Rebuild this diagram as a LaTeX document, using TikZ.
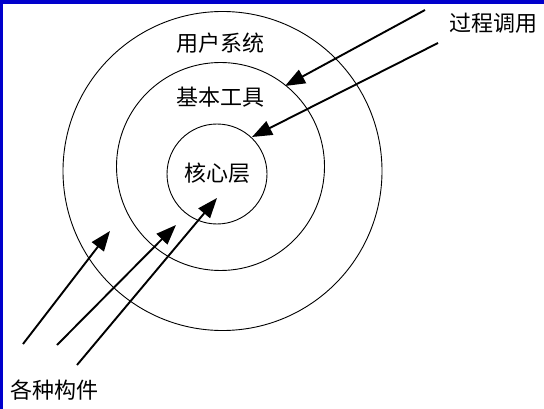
\documentclass[tikz,border=0pt]{standalone}
\usepackage{fontspec}
\newfontfamily\cjk{Noto Sans CJK SC}
\usetikzlibrary{arrows.meta}
\definecolor{frameblue}{RGB}{0,0,204}
\begin{document}
\begin{tikzpicture}[x=1pt,y=-1pt,
  ring/.style={draw=black,line width=0.9pt},
  lbl/.style={font=\cjk\fontsize{22}{24}\selectfont,inner sep=0pt},
  callarrow/.style={line width=1.9pt,-{Triangle[length=20pt,width=15pt]}}]
\useasboundingbox (0,0) rectangle (544,409);
\fill[white] (0,0) rectangle (544,409);
\fill[frameblue] (0,0) rectangle (544,4);
\fill[frameblue] (0,0) rectangle (3,409);
% rings
\draw[ring] (222.5,171) circle[radius=159.5pt];
\draw[ring] (220.5,166.5) circle[radius=104pt];
\draw[ring] (217,174) circle[radius=50pt];
% labels
\node[lbl] (user) at (220,43) {用户系统};
\node[lbl] (tools) at (220,97) {基本工具};
\node[lbl] (core) at (217,173) {核心层};
\node[lbl] (call) at (493,23) {过程调用};
\node[lbl] (comp) at (54,390) {各种构件};
% arrow end points
\coordinate (t1) at (425,10);
\coordinate (h1) at (285,86);
\coordinate (t2) at (438,43);
\coordinate (h2) at (252,137);
\coordinate (t3) at (23,344);
\coordinate (h3) at (110,231);
\coordinate (t4) at (57,345);
\coordinate (h4) at (176,225);
\coordinate (t5) at (77,365);
\coordinate (h5) at (217,198);
\draw[callarrow] (t1) -- (h1);
\draw[callarrow] (t2) -- (h2);
\draw[callarrow] (t3) -- (h3);
\draw[callarrow] (t4) -- (h4);
\draw[callarrow] (t5) -- (h5);
\end{tikzpicture}
\end{document}
